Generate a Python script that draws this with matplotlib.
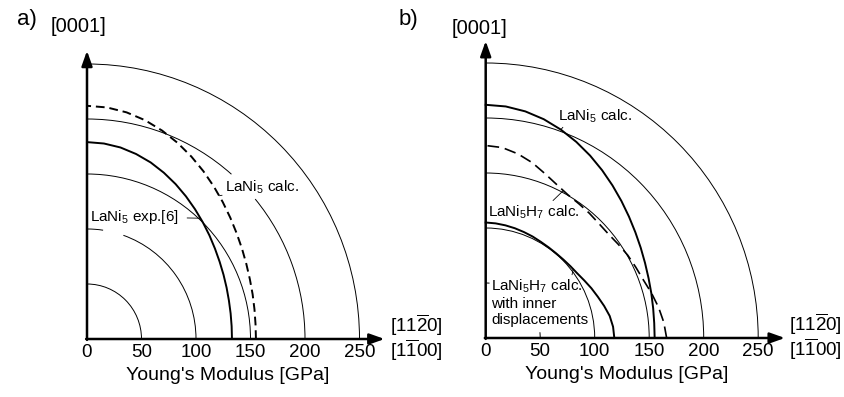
import numpy as np
import matplotlib.pyplot as plt
from matplotlib.patches import Arc

plt.rcParams['font.family'] = ['Liberation Sans', 'DejaVu Sans']
plt.rcParams['mathtext.fontset'] = 'custom'
plt.rcParams['mathtext.rm'] = 'Liberation Sans'
plt.rcParams['mathtext.it'] = 'Liberation Sans:italic'
plt.rcParams['mathtext.bf'] = 'Liberation Sans:bold'

# angle from the basal direction [11-20]/[1-100] towards [0001], degrees
angles = [0, 5, 10, 15, 20, 25, 30, 35, 40, 45, 50, 55, 60, 65, 70, 75, 80, 85, 90]

# Young's modulus (GPa) along each direction
lani5_exp = [133, 133.2, 133.8, 134.8, 136.3, 138.2, 140.5, 143.3, 146.6, 150.2,
             154.1, 158.3, 162.6, 166.8, 170.8, 174.1, 176.8, 178.4, 179]
lani5_calc = [155, 155.2, 156.0, 157.3, 159.0, 161.3, 164.2, 167.6, 171.6, 176.1,
              181.0, 186.2, 191.5, 196.7, 201.6, 205.9, 209.2, 211.3, 212]
lani5h7_calc = [166, 164, 161, 157.5, 154, 152, 150.5, 148.5, 147, 147,
                148, 149, 150.5, 154, 159, 165, 170, 173.8, 175]
lani5h7_inner = [118, 117.3, 115.5, 112.5, 109.5, 107, 104.5, 102.5, 101.5, 100.8,
                 100.5, 100.6, 101, 101.8, 102.5, 103.3, 104, 104.6, 105]

grid_radii = [50, 100, 150, 200, 250]
tick_values = [0, 50, 100, 150, 200, 250]

W, H = 845, 397
SX, SY = 1.09, 1.1   # px per GPa

fig = plt.figure(figsize=(W / 100, H / 100), dpi=100)


def make_panel(ox, oy):
    left, right, top, bottom = ox - 27, ox + 333, 20, 385
    ax = fig.add_axes([left / W, 1 - bottom / H, (right - left) / W, (bottom - top) / H])
    ax.set_xlim(-(ox - left) / SX, (right - ox) / SX)
    ax.set_ylim(-(bottom - oy) / SY, (oy - top) / SY)
    ax.axis('off')
    return ax


def curve(ax, r, **kw):
    th = np.deg2rad(angles)
    r = np.asarray(r)
    ax.plot(r * np.cos(th), r * np.sin(th), color='black', solid_joinstyle='round', **kw)


def point_on(r, ang):
    rr = np.interp(ang, angles, r)
    return rr * np.cos(np.deg2rad(ang)), rr * np.sin(np.deg2rad(ang))


def grid(ax, gaps):
    for rad in grid_radii:
        for t1, t2 in gaps.get(rad, [(0, 90)]):
            ax.add_patch(Arc((0, 0), 2 * rad, 2 * rad, theta1=t1, theta2=t2,
                             lw=0.7, color='black'))


def axes_deco(ax, ytip, xtip):
    ap = dict(arrowstyle='-|>,head_length=0.9,head_width=0.32', lw=1.8,
              color='black', shrinkA=0, shrinkB=0)
    ax.annotate('', xy=(0, ytip), xytext=(0, -0.8), arrowprops=ap)
    ax.annotate('', xy=(xtip, 0), xytext=(-0.8, 0), arrowprops=ap)
    for v in tick_values:
        ax.text(v, -12.5, str(v), ha='center', va='center', fontsize=13.5)
    ax.text(129, -33.5, "Young's Modulus [GPa]", ha='center', va='center', fontsize=14)
    ax.text(278, 12.3, r'[11$\overline{2}$0]', ha='left', va='center', fontsize=13.5)
    ax.text(278, -9.8, r'[1$\overline{1}$00]', ha='left', va='center', fontsize=13.5)


lead = dict(arrowstyle='-', lw=0.6, color='black', shrinkA=0, shrinkB=0)

# ---- panel a
ax = make_panel(87, 339)
grid(ax, {100: [(0, 70.5), (81.5, 90)], 200: [(0, 39.5), (48.5, 90)]})
curve(ax, lani5_exp, lw=1.4)
curve(ax, lani5_calc, lw=1.4, linestyle=(0, (4.5, 2.5)))
axes_deco(ax, 262, 273)
ax.text(-8, 284.5, '[0001]', ha='center', va='center', fontsize=14.5)
ax.annotate('LaNi$_5$ calc.', xy=point_on(lani5_calc, 47), xytext=(126.5, 137.5),
            ha='left', va='center', fontsize=11,
            arrowprops=dict(lead, relpos=(0, 0.1)))
ax.annotate('LaNi$_5$ exp.[6]', xy=point_on(lani5_exp, 46.5), xytext=(2.8, 111),
            ha='left', va='center', fontsize=11,
            arrowprops=dict(lead, relpos=(1, 0.45), shrinkA=4))

# ---- panel b
ax = make_panel(485.7, 338)
grid(ax, {50: [(0, 6), (86, 90)]})
curve(ax, lani5_calc, lw=1.4)
curve(ax, lani5h7_calc, lw=1.2, linestyle=(0, (7, 3.5)))
curve(ax, lani5h7_inner, lw=1.4)
axes_deco(ax, 270, 274.5)
ax.text(-6, 281, '[0001]', ha='center', va='center', fontsize=14.5)
ax.annotate('LaNi$_5$ calc.', xy=point_on(lani5_calc, 70), xytext=(66.3, 202),
            ha='left', va='center', fontsize=11,
            arrowprops=dict(lead, relpos=(0.12, 0.1)))
ax.annotate('LaNi$_5$H$_7$ calc.', xy=point_on(lani5h7_calc, 62), xytext=(2.1, 114.5),
            ha='left', va='center', fontsize=11,
            arrowprops=dict(lead, relpos=(0.66, 0.9)))
ax.annotate('LaNi$_5$H$_7$ calc.\nwith inner\ndisplacements', xy=point_on(lani5h7_inner, 38),
            xytext=(4.9, 55), ha='left', va='top', fontsize=11, linespacing=1.2,
            arrowprops=dict(lead, relpos=(0.82, 0.92)))

fig.text(27 / W, 1 - 20 / H, 'a)', ha='center', va='center', fontsize=16)
fig.text(408 / W, 1 - 19 / H, 'b)', ha='center', va='center', fontsize=16)

fig.savefig('out.png', dpi=100)
